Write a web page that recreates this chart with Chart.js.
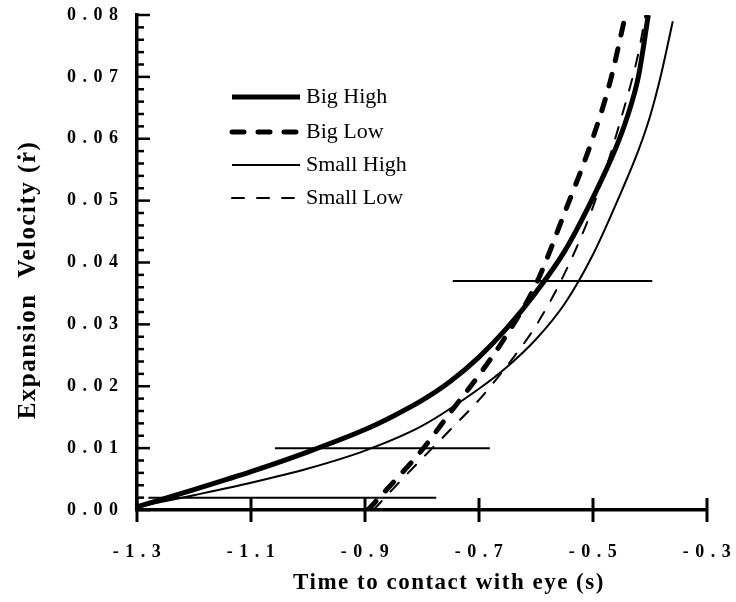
<!DOCTYPE html>
<html>
<head>
<meta charset="utf-8">
<script src="https://cdn.jsdelivr.net/npm/chart.js@4.4.1/dist/chart.umd.min.js"></script>
<style>
  html, body { margin: 0; padding: 0; background: #fff; }
</style>
</head>
<body>
<canvas id="myChart" width="736" height="602"></canvas>
<script>
const seriesLabels = ["Big High", "Big Low", "Small High", "Small Low"];

const bigHighX = [-1.3, -1.2, -1.1, -1.0, -0.9, -0.85, -0.8, -0.75, -0.7, -0.65, -0.6, -0.55, -0.5, -0.46, -0.44, -0.42, -0.403];
const bigHighY = [0.0005, 0.0033, 0.0062, 0.0094, 0.013, 0.0152, 0.0177, 0.0208, 0.0247, 0.0295, 0.0352, 0.0418, 0.0505, 0.0585, 0.0635, 0.0702, 0.08];

const bigLowX = [-0.895, -0.85, -0.8, -0.75, -0.7, -0.65, -0.6, -0.55, -0.5, -0.47, -0.443];
const bigLowY = [0, 0.0045, 0.0097, 0.0158, 0.0218, 0.0285, 0.0365, 0.048, 0.0602, 0.0692, 0.08];

const smallHighX = [-1.3, -1.2, -1.1, -1.0, -0.9, -0.8, -0.7, -0.65, -0.6, -0.55, -0.5, -0.45, -0.42, -0.4, -0.38, -0.36];
const smallHighY = [0.0005, 0.0024, 0.0044, 0.0067, 0.0096, 0.0136, 0.0196, 0.0232, 0.0276, 0.0333, 0.0413, 0.0515, 0.0582, 0.0636, 0.0706, 0.079];

const smallLowX = [-0.885, -0.85, -0.8, -0.75, -0.7, -0.65, -0.6, -0.55, -0.5, -0.45, -0.42, -0.408];
const smallLowY = [0, 0.0035, 0.0083, 0.013, 0.0178, 0.0234, 0.0298, 0.0382, 0.049, 0.0635, 0.074, 0.08];

// horizontal reference lines
const refLineY = [0.002, 0.01, 0.037];
const refLineFrom = [-1.28, -1.058, -0.746];
const refLineTo = [-0.775, -0.681, -0.396];

const xTickLabels = ["-1.3", "-1.1", "-0.9", "-0.7", "-0.5", "-0.3"];
const yTickLabels = ["0.00", "0.01", "0.02", "0.03", "0.04", "0.05", "0.06", "0.07", "0.08"];

const xTitle = "Time to contact with eye (s)";
const yTitle = "Expansion  Velocity (\u1E59)";

const serif = "'Liberation Serif', 'Times New Roman', serif";

const toPoints = (xs, ys) => xs.map((x, i) => ({ x: x, y: ys[i] }));

const seriesStyle = (label, xs, ys, width, dash) => ({
  label: label,
  data: toPoints(xs, ys),
  borderColor: "#000",
  borderWidth: width,
  borderDash: dash,
  borderCapStyle: dash.length ? "round" : "butt",
  pointRadius: 0,
  fill: false,
  cubicInterpolationMode: "monotone",
});

const datasets = [
  seriesStyle(seriesLabels[0], bigHighX, bigHighY, 5, []),
  seriesStyle(seriesLabels[1], bigLowX, bigLowY, 5, [12, 14]),
  seriesStyle(seriesLabels[2], smallHighX, smallHighY, 2, []),
  seriesStyle(seriesLabels[3], smallLowX, smallLowY, 2, [12, 13]),
];

for (let i = 0; i < refLineY.length; i++) {
  datasets.push({
    label: "",
    data: [
      { x: refLineFrom[i], y: refLineY[i] },
      { x: refLineTo[i], y: refLineY[i] },
    ],
    borderColor: "#000",
    borderWidth: 2,
    pointRadius: 0,
    fill: false,
  });
}

const decor = {
  id: "decor",
  beforeDraw(chart) {
    // wide tracking for the tick labels
    chart.ctx.letterSpacing = "6.5px";
  },
  beforeDatasetsDraw(chart) {
    const { ctx, chartArea, scales } = chart;
    ctx.letterSpacing = "0px";
    ctx.save();
    ctx.strokeStyle = "#000";
    ctx.lineCap = "butt";

    // y ticks pointing inward, 4 minor ticks between majors
    ctx.lineWidth = 2.5;
    const yt = scales.y.ticks;
    for (let i = 0; i < yt.length; i++) {
      const py = scales.y.getPixelForValue(yt[i].value);
      ctx.beginPath();
      ctx.moveTo(chartArea.left, py);
      ctx.lineTo(chartArea.left + 13, py);
      ctx.stroke();
      if (i < yt.length - 1) {
        const py2 = scales.y.getPixelForValue(yt[i + 1].value);
        for (let k = 1; k < 5; k++) {
          const m = py + ((py2 - py) * k) / 5;
          ctx.beginPath();
          ctx.moveTo(chartArea.left, m);
          ctx.lineTo(chartArea.left + 7, m);
          ctx.stroke();
        }
      }
    }

    // x ticks crossing the axis
    ctx.lineWidth = 3;
    scales.x.ticks.forEach((t) => {
      const px = scales.x.getPixelForValue(t.value);
      ctx.beginPath();
      ctx.moveTo(px, chartArea.bottom - 12);
      ctx.lineTo(px, chartArea.bottom + 12);
      ctx.stroke();
    });
    ctx.restore();
  },
  afterDraw(chart) {
    const { ctx } = chart;
    ctx.save();
    ctx.fillStyle = "#000";
    ctx.strokeStyle = "#000";

    // axis titles
    ctx.letterSpacing = "1.5px";
    ctx.textAlign = "center";
    ctx.textBaseline = "middle";
    ctx.font = "bold 23px " + serif;
    ctx.fillText(xTitle, 449, 583);

    ctx.save();
    ctx.translate(29, 280);
    ctx.rotate(-Math.PI / 2);
    ctx.font = "bold 25px " + serif;
    ctx.fillText(yTitle, 0, 0);
    ctx.restore();

    // legend inside the plot
    ctx.letterSpacing = "0px";
    ctx.textAlign = "left";
    ctx.font = "22px " + serif;
    const rows = [97, 132, 165, 198];
    for (let i = 0; i < 4; i++) {
      const ds = chart.data.datasets[i];
      ctx.lineWidth = ds.borderWidth;
      ctx.setLineDash(ds.borderDash);
      ctx.lineCap = ds.borderCapStyle;
      ctx.beginPath();
      ctx.moveTo(232, rows[i]);
      ctx.lineTo(300, rows[i]);
      ctx.stroke();
      ctx.fillText(ds.label, 306, rows[i]);
    }
    ctx.restore();
  },
};

const tickFont = { family: serif, size: 18, weight: "bold" };

const myChart = document.getElementById("myChart").getContext("2d");

new Chart(myChart, {
  type: "line",
  data: { datasets: datasets },
  options: {
    responsive: false,
    animation: false,
    devicePixelRatio: 1,
    layout: { padding: { top: 15, right: 29, left: 0, bottom: 0 } },
    plugins: {
      legend: { display: false },
      tooltip: { enabled: false },
    },
    scales: {
      x: {
        type: "linear",
        min: -1.3,
        max: -0.3,
        afterFit: (scale) => {
          scale.height = 92;
          scale.paddingLeft = 0;
          scale.paddingRight = 0;
        },
        grid: { display: false },
        border: { color: "#000", width: 3.5 },
        ticks: {
          stepSize: 0.2,
          padding: 24,
          labelOffset: 3,
          maxRotation: 0,
          autoSkip: false,
          color: "#000",
          font: tickFont,
          callback: (v, i) => xTickLabels[i],
        },
      },
      y: {
        type: "linear",
        min: 0,
        max: 0.08,
        afterFit: (scale) => {
          scale.width = 137;
          scale.paddingTop = 0;
          scale.paddingBottom = 0;
        },
        grid: { display: false },
        border: { color: "#000", width: 3.5 },
        ticks: {
          stepSize: 0.01,
          padding: 4.5,
          color: "#000",
          font: tickFont,
          callback: (v, i) => yTickLabels[i],
        },
      },
    },
  },
  plugins: [decor],
});
</script>
</body>
</html>
